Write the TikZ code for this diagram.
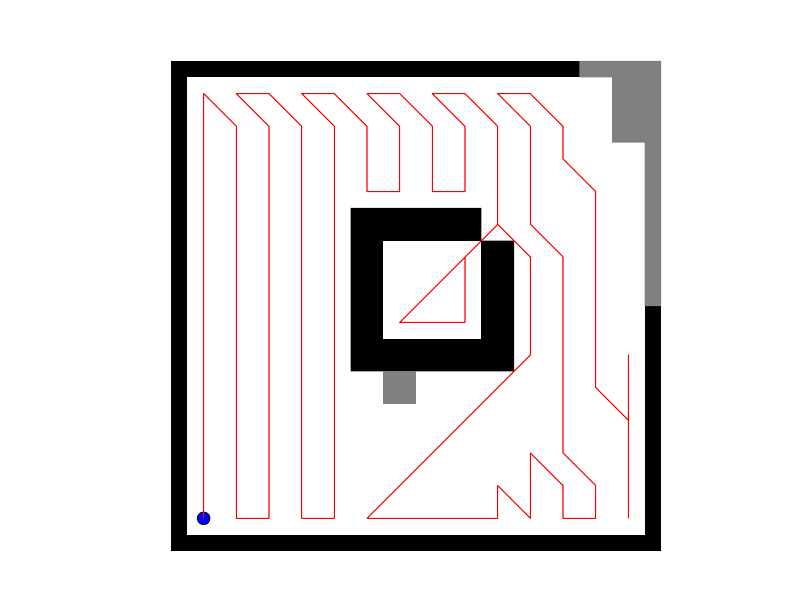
\documentclass[tikz,border=0pt]{standalone}
\definecolor{mapgray}{RGB}{128,128,128}
\definecolor{pathred}{RGB}{255,0,0}
\definecolor{robotblue}{RGB}{0,0,255}
\tikzset{
  wall/.style={fill=black},
  unknown/.style={fill=mapgray},
  free/.style={fill=white},
  route/.style={draw=pathred, line width=0.8pt, line join=round},
  robot/.style={circle, draw=black, fill=robotblue, line width=0.6pt, minimum size=9.5pt, inner sep=0pt}
}
\begin{document}
\begin{tikzpicture}[x=24.5pt, y=-24.5pt]
\useasboundingbox (-5.2347,-1.8673) rectangle (19.6224,16.8673);
% outer walls
\fill[wall] (0,0) rectangle (15,15);
\fill[free] (0.5,0.5) rectangle (14.5,14.5);
% unknown (gray) region top-right
\fill[unknown] (12.5,0) -- (15,0) -- (15,7.5) -- (14.5,7.5) -- (14.5,2.5) -- (13.5,2.5) -- (13.5,0.5) -- (12.5,0.5) -- cycle;
% central obstacle
\fill[wall] (5.5,4.5) -- (9.5,4.5) -- (9.5,5.5) -- (10.5,5.5) -- (10.5,9.5) -- (5.5,9.5) -- cycle;
\fill[free] (6.5,5.5) rectangle (9.5,8.5);
\fill[unknown] (6.5,9.5) rectangle (7.5,10.5);
% robot
\node[robot] (start) at (1,14) {};
% coverage path
\draw[route] (start.center) -- (1,1) -- (2,2) -- (2,14) -- (3,14) -- (3,2) -- (2,1) -- (3,1) -- (4,2)
  -- (4,14) -- (5,14) -- (5,2) -- (4,1) -- (5,1) -- (6,2) -- (6,4) -- (7,4) -- (7,2) -- (6,1)
  -- (7,1) -- (8,2) -- (8,4) -- (9,4) -- (9,2) -- (8,1) -- (9,1) -- (10,2) -- (10,5) -- (7,8)
  -- (9,8) -- (9,6) -- (10,5) -- (11,6) -- (11,9) -- (6,14) -- (10,14) -- (10,13) -- (11,14)
  -- (11,12) -- (12,13) -- (12,14) -- (13,14) -- (13,13) -- (12,12) -- (12,6) -- (11,5)
  -- (11,2) -- (10,1) -- (11,1) -- (12,2) -- (12,3) -- (13,4) -- (13,10) -- (14,11)
  -- (14,9) -- (14,14);
\end{tikzpicture}
\end{document}
